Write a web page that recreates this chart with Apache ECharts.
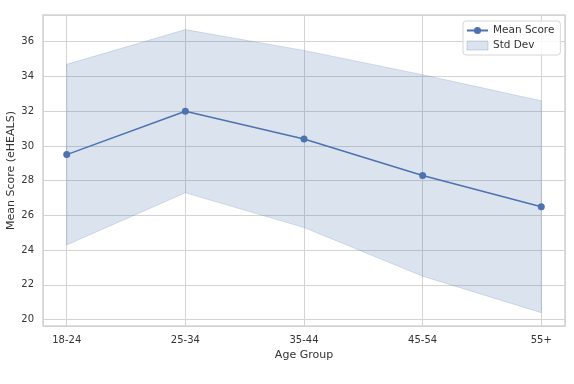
<!DOCTYPE html>
<html><head><meta charset="utf-8">
<script src="https://cdn.jsdelivr.net/npm/echarts@6/dist/echarts.min.js"></script>
<style>html,body{margin:0;padding:0;background:#fff}#c{width:574px;height:384px}</style>
</head><body><div id="c"></div>
<script>
const categories = ['18-24','25-34','35-44','45-54','55+'];
const meanScores = [29.5, 32.0, 30.4, 28.3, 26.5];
const stdDevs = [5.2, 4.7, 5.1, 5.8, 6.1];

const bandData = meanScores.map((m,i)=>[i, m - stdDevs[i], m + stdDevs[i]]);
const meanData = meanScores.map((m,i)=>[i, m]);

const blue = '#4c72b0';
const fill = 'rgba(76,114,176,0.2)';
const txt = '#333';
const font = 'DejaVu Sans';

function renderBand(params, api){
  if (params.dataIndex !== 0) return null;
  const up = bandData.map(d=>api.coord([d[0], d[2]]));
  const lo = bandData.map(d=>api.coord([d[0], d[1]])).reverse();
  return {type:'polygon', shape:{points: up.concat(lo)},
    style:{fill:fill, stroke:'rgba(76,114,176,0.2)', lineWidth:1}};
}

const chart = echarts.init(document.getElementById('c'), null, {renderer:'canvas'});
chart.setOption({
  animation:false,
  backgroundColor:'#fff',
  grid:{left:43, right:9, top:15, bottom:58, show:true, borderColor:'#d3d3d3', borderWidth:1.5,
    backgroundColor:'transparent', containLabel:false, outerBoundsMode:'none'},
  xAxis:{
    type:'value', min:-0.2, max:4.2, splitNumber:4,
    name:'Age Group', nameLocation:'middle', nameGap:24, nameMoveOverlap:false,
    nameTextStyle:{color:txt, fontSize:11, fontFamily:font},
    axisLine:{show:false}, axisTick:{show:false},
    axisLabel:{color:txt, fontSize:10, fontFamily:font, margin:9,
      showMinLabel:false, showMaxLabel:false,
      formatter:v=> (Math.abs(v-Math.round(v))<1e-6 ? categories[Math.round(v)] : '')},
    splitLine:{show:true, lineStyle:{color:'#d3d3d3', width:1}}
  },
  yAxis:{
    type:'value', min:19.63, max:37.54, splitNumber:9,
    name:'Mean Score (eHEALS)', nameLocation:'middle', nameGap:26, nameMoveOverlap:false,
    nameTextStyle:{color:txt, fontSize:11, fontFamily:font},
    axisLine:{show:false}, axisTick:{show:false},
    axisLabel:{color:txt, fontSize:10, fontFamily:font, margin:9,
      showMinLabel:false, showMaxLabel:false,
      formatter:v=> (Math.abs(v-Math.round(v))<1e-6 ? String(Math.round(v)) : '')},
    splitLine:{show:true, lineStyle:{color:'#d3d3d3', width:1}}
  },
  legend:{
    orient:'vertical', left:463, top:21,
    padding:[4,6,4,3], itemGap:4, itemWidth:21, itemHeight:9,
    backgroundColor:'rgba(255,255,255,0.85)', borderColor:'#d6d6d6', borderWidth:1, borderRadius:3,
    textStyle:{color:txt, fontSize:10.5, fontFamily:font},
    data:[
      {name:'Mean Score'},
      {name:'Std Dev', icon:'rect', itemStyle:{color:fill, borderColor:'rgba(76,114,176,0.25)', borderWidth:1}}
    ]
  },
  series:[
    {name:'Std Dev', type:'custom', data:bandData, renderItem:renderBand,
      encode:{x:0, y:[1,2]}, itemStyle:{color:fill}, silent:true, z:1, clip:true},
    {name:'Mean Score', type:'line', data:meanData, symbol:'circle', symbolSize:7,
      itemStyle:{color:blue}, lineStyle:{color:blue, width:1.5}, z:3}
  ]
});
</script></body></html>
